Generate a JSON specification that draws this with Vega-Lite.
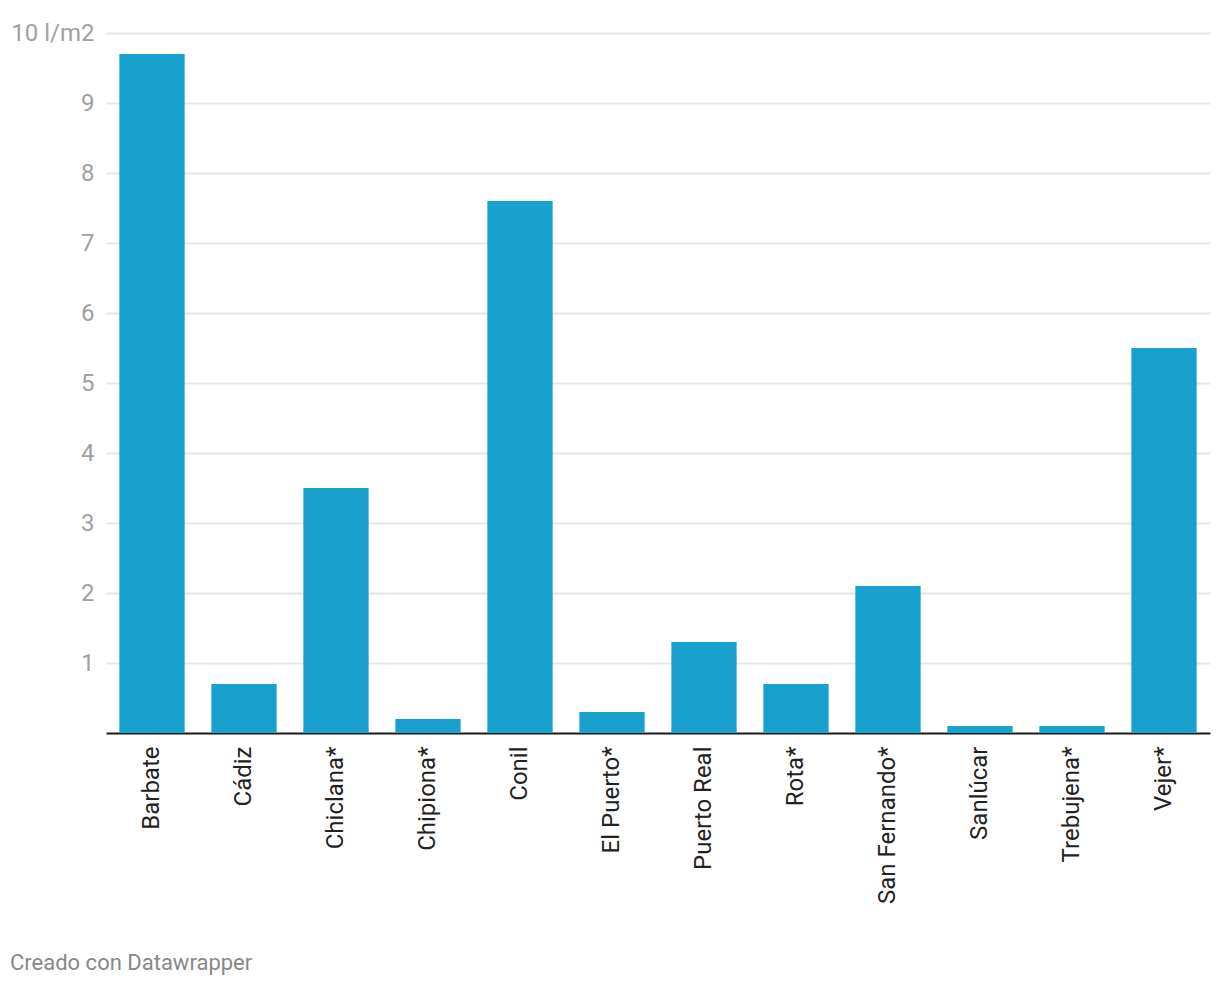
{
  "$schema": "https://vega.github.io/schema/vega-lite/v6.json",
  "autosize": {"type": "none"},
  "width": 1104,
  "height": 700,
  "padding": {"left": 106, "top": 33, "right": 10, "bottom": 255},
  "background": "white",
  "config": {
    "font": "Roboto",
    "view": {"stroke": null}
  },
  "title": {
    "text": "Creado con Datawrapper",
    "orient": "bottom",
    "anchor": "start",
    "frame": "group",
    "dx": -96,
    "offset": 49,
    "baseline": "top",
    "font": "Roboto",
    "fontSize": 22,
    "fontWeight": "normal",
    "color": "#888888"
  },
  "data": {
    "values": [
      {"municipio": "Barbate", "lluvia": 9.7},
      {"municipio": "Cádiz", "lluvia": 0.7},
      {"municipio": "Chiclana*", "lluvia": 3.5},
      {"municipio": "Chipiona*", "lluvia": 0.2},
      {"municipio": "Conil", "lluvia": 7.6},
      {"municipio": "El Puerto*", "lluvia": 0.3},
      {"municipio": "Puerto Real", "lluvia": 1.3},
      {"municipio": "Rota*", "lluvia": 0.7},
      {"municipio": "San Fernando*", "lluvia": 2.1},
      {"municipio": "Sanlúcar", "lluvia": 0.1},
      {"municipio": "Trebujena*", "lluvia": 0.1},
      {"municipio": "Vejer*", "lluvia": 5.5}
    ]
  },
  "mark": {"type": "bar", "color": "#18a1cd"},
  "encoding": {
    "x": {
      "field": "municipio",
      "type": "nominal",
      "sort": null,
      "scale": {"paddingInner": 0.29, "paddingOuter": 0.145},
      "axis": {
        "title": null,
        "labelAngle": -90,
        "labelAlign": "right",
        "labelBaseline": "middle",
        "labelFontSize": 24,
        "labelColor": "#222222",
        "labelPadding": 13,
        "labelLimit": 300,
        "ticks": false,
        "domain": true,
        "domainColor": "#1a1a1a",
        "domainWidth": 2,
        "grid": false
      }
    },
    "y": {
      "field": "lluvia",
      "type": "quantitative",
      "scale": {"domain": [0, 10], "nice": false},
      "axis": {
        "title": null,
        "values": [1, 2, 3, 4, 5, 6, 7, 8, 9, 10],
        "labelExpr": "datum.value == 10 ? '10 l/m2' : datum.label",
        "labelFontSize": 24,
        "labelColor": "#a0a0a0",
        "labelPadding": 12,
        "ticks": false,
        "domain": false,
        "grid": true,
        "gridColor": "#e6e6e6",
        "gridWidth": 2
      }
    }
  }
}
